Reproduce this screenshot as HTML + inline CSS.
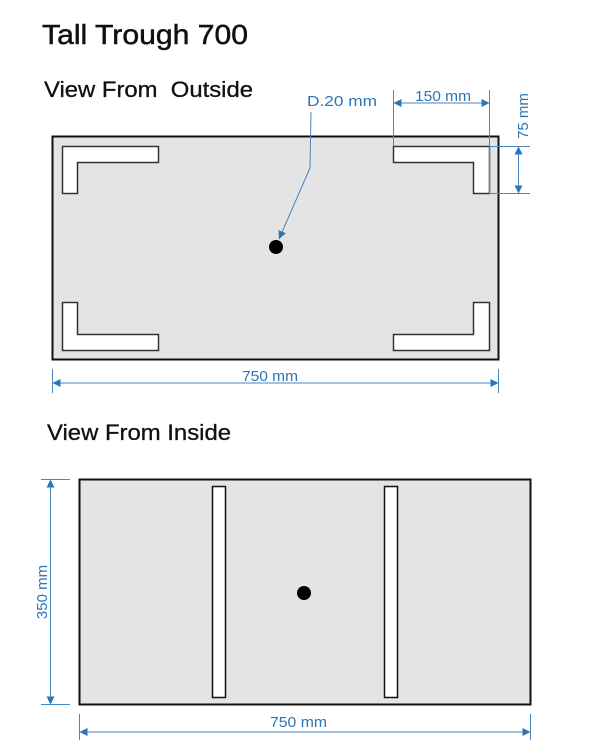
<!DOCTYPE html>
<html><head><style>
body{margin:0;background:#fff;}
svg{display:block;font-family:"Liberation Sans",Arial,sans-serif;}
.t{font-family:"Liberation Sans",sans-serif;fill:#111;}
.b{fill:#2e75b6;font-size:15px;}
</style></head><body>
<svg width="600" height="754" viewBox="0 0 600 754">
<defs>
<marker id="a" viewBox="0 0 10 10" refX="10" refY="5" markerWidth="12" markerHeight="8" markerUnits="userSpaceOnUse" orient="auto-start-reverse"><path d="M0,0L10,5L0,10z" fill="#2e75b6"/></marker>
</defs>
<text x="42" y="44" class="t" font-size="28" textLength="206" lengthAdjust="spacingAndGlyphs" stroke="#111" stroke-width="0.5">Tall Trough 700</text>
<text x="44" y="97" class="t" font-size="22" textLength="209" lengthAdjust="spacingAndGlyphs" stroke="#111" stroke-width="0.3" xml:space="preserve">View From  Outside</text>
<text x="47" y="440" class="t" font-size="22" textLength="184" lengthAdjust="spacingAndGlyphs" stroke="#111" stroke-width="0.3">View From Inside</text>

<rect x="52.5" y="136.5" width="446" height="223" fill="#e4e4e4" stroke="#111" stroke-width="2"/>
<g fill="#fff" stroke="#333" stroke-width="1.5">
<path d="M62.5,146.5H158.5V162.5H77.5V193.5H62.5Z"/>
<path d="M489.5,146.5H393.5V162.5H473.5V193.5H489.5Z"/>
<path d="M62.5,350.5H158.5V334.5H77.5V302.5H62.5Z"/>
<path d="M489.5,350.5H393.5V334.5H473.5V302.5H489.5Z"/>
</g>
<circle cx="276" cy="247" r="7" fill="#000"/>

<g stroke="#4a86c0" stroke-width="1" fill="none">
<path d="M311,112L310,168L279,239" marker-end="url(#a)"/>
<path d="M393.5,90V146M489.5,90V193"/>
<path d="M393.5,103H489.5" marker-start="url(#a)" marker-end="url(#a)"/>
<path d="M489,146.5H530M489,193.5H530"/>
<path d="M518.5,146.5V193.5" marker-start="url(#a)" marker-end="url(#a)"/>
<path d="M52.5,369V393M498.5,369V393"/>
<path d="M52.5,383H498.5" marker-start="url(#a)" marker-end="url(#a)"/>
<path d="M41,479.5H70M41,704.5H70"/>
<path d="M50.5,479.5V704.5" marker-start="url(#a)" marker-end="url(#a)"/>
<path d="M79.5,714V740M530.5,714V740"/>
<path d="M79.5,732H530.5" marker-start="url(#a)" marker-end="url(#a)"/>
</g>
<text x="307" y="106" class="b" textLength="70" lengthAdjust="spacingAndGlyphs">D.20 mm</text>
<text x="415" y="101" class="b" textLength="56" lengthAdjust="spacingAndGlyphs">150 mm</text>
<text transform="translate(528,116) rotate(-90)" text-anchor="middle" class="b">75 mm</text>
<text x="242" y="381" class="b" textLength="56" lengthAdjust="spacingAndGlyphs">750 mm</text>
<text x="270" y="727" class="b" textLength="57" lengthAdjust="spacingAndGlyphs">750 mm</text>
<text transform="translate(47,592) rotate(-90)" text-anchor="middle" class="b">350 mm</text>

<rect x="79.5" y="479.5" width="451" height="225" fill="#e4e4e4" stroke="#111" stroke-width="2"/>
<rect x="212.5" y="486.5" width="13" height="211" fill="#fff" stroke="#111" stroke-width="1.5"/>
<rect x="384.5" y="486.5" width="13" height="211" fill="#fff" stroke="#111" stroke-width="1.5"/>
<circle cx="304" cy="593" r="7" fill="#000"/>
</svg>
</body></html>
